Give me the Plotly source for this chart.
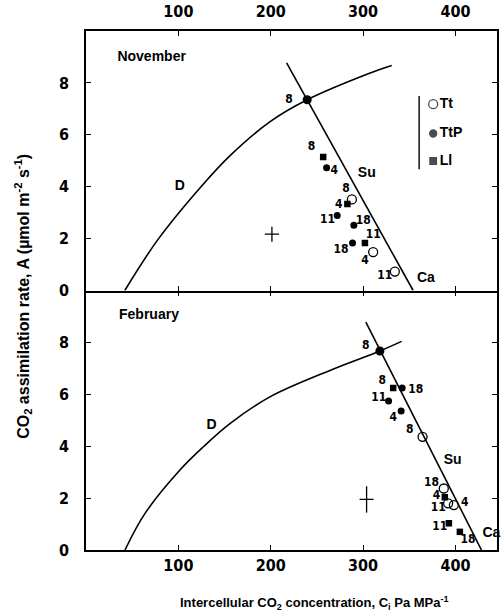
import plotly.graph_objects as go
from plotly.subplots import make_subplots

# ---------------- data (November = top panel) ----------------
nov_D_x = [42.0, 78.0, 125.0, 156.0, 199.0, 239.5, 307.0, 331.0]
nov_D_y = [0.0, 1.97, 4.02, 5.20, 6.50, 7.35, 8.37, 8.67]
nov_Su_x = [217.2, 354.2]
nov_Su_y = [8.77, 0.0]
nov_int_x = [239.5]
nov_int_y = [7.35]
nov_TtP_x = [260.5, 272.0, 290.0, 288.6]
nov_TtP_y = [4.73, 2.89, 2.51, 1.83]
nov_Ll_x = [256.8, 283.0, 302.0]
nov_Ll_y = [5.14, 3.33, 1.83]
nov_Tt_x = [287.9, 310.9, 334.4]
nov_Tt_y = [3.51, 1.48, 0.73]
nov_err_x = [201.3]
nov_err_y = [2.17]
nov_err_dx = [7.7]
nov_err_dy = [0.29]
nov_lab_text = ["8", "8", "4", "8", "4", "11", "18", "18", "11", "4", "11"]
nov_lab_x = [219.7, 244.3, 268.7, 281.4, 273.8, 261.6, 300.1, 276.0, 310.9, 302.0, 323.6]
nov_lab_y = [7.35, 5.53, 4.60, 3.93, 3.29, 2.71, 2.67, 1.57, 2.15, 1.12, 0.57]

# ---------------- data (February = bottom panel) ----------------
feb_D_x = [42.2, 63.9, 101.7, 126.9, 155.8, 199.1, 264.1, 318.2, 341.7]
feb_D_y = [0.0, 1.41, 3.08, 3.97, 4.87, 5.90, 6.92, 7.67, 8.04]
feb_Su_x = [303.0, 428.2]
feb_Su_y = [8.78, 0.0]
feb_int_x = [318.2]
feb_int_y = [7.67]
feb_TtP_x = [342.3, 327.6, 341.2]
feb_TtP_y = [6.24, 5.74, 5.36]
feb_Ll_x = [332.6, 388.5, 392.9, 404.8]
feb_Ll_y = [6.24, 2.03, 1.03, 0.70]
feb_Tt_x = [364.4, 387.4, 392.1, 398.3]
feb_Tt_y = [4.36, 2.37, 1.80, 1.73]
feb_err_x = [303.8]
feb_err_y = [1.95]
feb_err_dx = [7.6]
feb_err_dy = [0.51]
feb_lab_text = ["8", "8", "18", "11", "4", "8", "18", "4", "11", "4", "11", "18"]
feb_lab_x = [303.0, 320.7, 357.1, 317.1, 332.6, 350.6, 374.1, 379.5, 381.3, 410.2, 383.1, 413.7]
feb_lab_y = [7.88, 6.50, 6.15, 5.86, 5.09, 4.62, 2.57, 2.08, 1.60, 1.83, 0.90, 0.38]

# curve / panel labels
nov_txt = ["November", "D", "Su", "Ca"]
nov_txt_x = [71.1, 101.5, 304.0, 368.0]
nov_txt_y = [8.99, 4.02, 4.49, 0.45]
feb_txt = ["February", "D", "Su", "Ca"]
feb_txt_x = [68.2, 136.0, 397.0, 439.0]
feb_txt_y = [9.04, 4.81, 3.46, 0.65]

# legend (drawn inside November panel)
leg_names = ["Tt", "TtP", "Ll"]
leg_x = [375.9, 375.9, 375.9]
leg_y = [7.18, 6.05, 4.99]
leg_text_x = [383.0, 383.0, 383.0]
leg_bar_x = [360.7, 360.7]
leg_bar_y = [7.5, 4.67]

x_ticks = [100, 200, 300, 400]
y_ticks = [0, 2, 4, 6, 8]

# ---------------- figure ----------------
BLK = "black"
FONT = "Liberation Sans, Arial, sans-serif"
NARROW = "DejaVu Sans Condensed, Liberation Sans Narrow, Arial Narrow, sans-serif"

fig = make_subplots(rows=2, cols=1, shared_xaxes=True, vertical_spacing=0)

def add_panel(row, Dx, Dy, Sx, Sy, ix, iy, ttpx, ttpy, llx, lly, ttx, tty,
              ex, ey, edx, edy, lt, lx, ly, tt, tx, ty):
    fig.add_trace(go.Scatter(x=Dx, y=Dy, mode="lines",
                             line=dict(color=BLK, width=1.6, shape="spline", smoothing=1.0),
                             hoverinfo="skip"), row=row, col=1)
    fig.add_trace(go.Scatter(x=Sx, y=Sy, mode="lines",
                             line=dict(color=BLK, width=1.6), hoverinfo="skip"), row=row, col=1)
    fig.add_trace(go.Scatter(x=ix, y=iy, mode="markers",
                             marker=dict(symbol="circle", size=9, color=BLK)), row=row, col=1)
    fig.add_trace(go.Scatter(x=ttpx, y=ttpy, mode="markers",
                             marker=dict(symbol="circle", size=7, color=BLK)), row=row, col=1)
    fig.add_trace(go.Scatter(x=llx, y=lly, mode="markers",
                             marker=dict(symbol="square", size=6.5, color=BLK)), row=row, col=1)
    fig.add_trace(go.Scatter(x=ttx, y=tty, mode="markers",
                             marker=dict(symbol="circle-open", size=9, color=BLK,
                                         line=dict(width=1.3, color=BLK))), row=row, col=1)
    fig.add_trace(go.Scatter(x=ex, y=ey, mode="markers",
                             marker=dict(size=1, color="rgba(0,0,0,0)"),
                             error_x=dict(type="data", array=edx, color=BLK, thickness=1.3, width=0),
                             error_y=dict(type="data", array=edy, color=BLK, thickness=1.3, width=0)),
                  row=row, col=1)
    fig.add_trace(go.Scatter(x=lx, y=ly, mode="text", text=lt,
                             textfont=dict(family=NARROW, size=12, color=BLK, weight="bold"),
                             textposition="middle center", cliponaxis=False), row=row, col=1)
    fig.add_trace(go.Scatter(x=tx, y=ty, mode="text", text=tt,
                             textfont=dict(family=FONT, size=14, color=BLK, weight="bold"),
                             textposition="middle center", cliponaxis=False), row=row, col=1)

add_panel(1, nov_D_x, nov_D_y, nov_Su_x, nov_Su_y, nov_int_x, nov_int_y,
          nov_TtP_x, nov_TtP_y, nov_Ll_x, nov_Ll_y, nov_Tt_x, nov_Tt_y,
          nov_err_x, nov_err_y, nov_err_dx, nov_err_dy,
          nov_lab_text, nov_lab_x, nov_lab_y, nov_txt, nov_txt_x, nov_txt_y)
add_panel(2, feb_D_x, feb_D_y, feb_Su_x, feb_Su_y, feb_int_x, feb_int_y,
          feb_TtP_x, feb_TtP_y, feb_Ll_x, feb_Ll_y, feb_Tt_x, feb_Tt_y,
          feb_err_x, feb_err_y, feb_err_dx, feb_err_dy,
          feb_lab_text, feb_lab_x, feb_lab_y, feb_txt, feb_txt_x, feb_txt_y)

# custom legend
fig.add_trace(go.Scatter(x=leg_bar_x, y=leg_bar_y, mode="lines",
                         line=dict(color=BLK, width=1.4)), row=1, col=1)
fig.add_trace(go.Scatter(x=leg_x, y=leg_y, mode="markers",
                         marker=dict(symbol=["circle-open", "circle", "square"],
                                     size=[9, 7, 6.5], color=BLK,
                                     line=dict(width=1.3, color=BLK))), row=1, col=1)
fig.add_trace(go.Scatter(x=leg_text_x, y=leg_y, mode="text", text=leg_names,
                         textposition="middle right", cliponaxis=False,
                         textfont=dict(family=FONT, size=14, color=BLK, weight="bold")),
              row=1, col=1)

tickfont = dict(family=NARROW, size=16, color=BLK, weight="bold")
xcommon = dict(range=[0, 445], tickvals=x_ticks, ticktext=[str(v) for v in x_ticks],
               ticks="inside", ticklen=5, tickwidth=1.3, tickcolor=BLK,
               showline=True, linecolor=BLK, linewidth=1.5, automargin=False,
               showgrid=False, zeroline=False, tickfont=tickfont)
ycommon = dict(range=[0, 10], tickvals=y_ticks, ticktext=[str(v) for v in y_ticks],
               ticks="inside", ticklen=5, tickwidth=1.3, tickcolor=BLK,
               showline=True, linecolor=BLK, linewidth=1.5, mirror="ticks",
               automargin=False,
               showgrid=False, zeroline=False, tickfont=tickfont, ticklabelstandoff=12)

fig.update_layout(
    width=501, height=615,
    margin=dict(l=86, r=4, t=31, b=65, autoexpand=False),
    paper_bgcolor="white", plot_bgcolor="white",
    showlegend=False,
    # top panel: labels on top, line + upward ticks on the shared boundary
    xaxis=dict(**xcommon, side="top", mirror="ticks", showticklabels=True,
               ticklabelstandoff=6),
    # bottom panel: labels at bottom, no mirrored line (boundary drawn once)
    xaxis2=dict(**xcommon, side="bottom", mirror=False, showticklabels=True,
                ticklabelstandoff=0),
    # extra overlay axis: downward ticks on the boundary into the bottom panel
    xaxis3=dict(range=[0, 445], tickvals=x_ticks, ticks="inside", ticklen=5,
                tickwidth=1.3, tickcolor=BLK, showline=False, showgrid=False,
                zeroline=False, showticklabels=False, side="top", automargin=False,
                overlaying="x2", anchor="y2"),
    yaxis=dict(**ycommon),
    yaxis2=dict(**ycommon),
)

# dummy trace to activate xaxis3
fig.add_trace(go.Scatter(x=[None], y=[None], xaxis="x3", yaxis="y2",
                         mode="markers", hoverinfo="skip"))

fig.add_annotation(xref="paper", yref="paper", x=-0.153, y=0.488,
                   text="CO<sub>2</sub> assimilation rate, A (µmol m<sup>-2</sup> s<sup>-1</sup>)",
                   textangle=-90, showarrow=False, xanchor="center", yanchor="middle",
                   font=dict(family=FONT, size=16, color=BLK, weight="bold"))
fig.add_annotation(xref="paper", yref="paper", x=0.557, y=-0.102,
                   text="Intercellular CO<sub>2</sub> concentration, C<sub>i</sub> Pa MPa<sup>-1</sup>",
                   showarrow=False, xanchor="center", yanchor="middle",
                   font=dict(family=FONT, size=13, color=BLK, weight="bold"))

fig.write_html("out.html")
